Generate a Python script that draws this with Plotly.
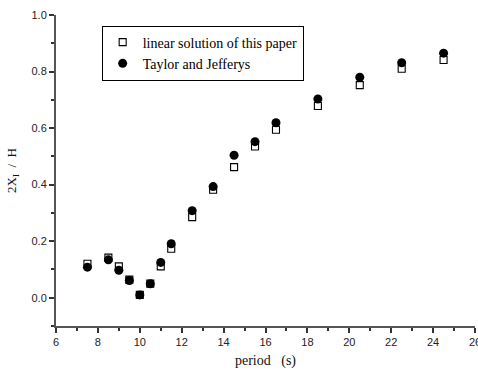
import plotly.graph_objects as go

period = [7.5, 8.5, 9.0, 9.5, 10.0, 10.5, 11.0, 11.5, 12.5, 13.5, 14.5, 15.5, 16.5, 18.5, 20.5, 22.5, 24.5]
linear_solution = [0.120, 0.142, 0.111, 0.064, 0.010, 0.050, 0.111, 0.173, 0.285, 0.382, 0.462, 0.535, 0.594, 0.678, 0.752, 0.810, 0.841]
taylor_jefferys = [0.108, 0.134, 0.097, 0.061, 0.010, 0.049, 0.125, 0.191, 0.308, 0.393, 0.504, 0.552, 0.619, 0.703, 0.780, 0.831, 0.865]

fig = go.Figure()
fig.add_trace(go.Scatter(
    x=period, y=linear_solution, mode="markers", name="linear solution of this paper",
    marker=dict(symbol="square-open", size=7, color="black", line=dict(width=1.1, color="black")),
))
fig.add_trace(go.Scatter(
    x=period, y=taylor_jefferys, mode="markers", name="Taylor and Jefferys",
    marker=dict(symbol="circle", size=9, color="black"),
))

axis_common = dict(
    showgrid=False, zeroline=False, showline=True, linecolor="#555555", linewidth=2,
    ticks="outside", ticklen=5, tickwidth=1.5, tickcolor="#333333",
    tickfont=dict(family="Liberation Sans, Arial", size=11, color="#222222"),
    mirror=False, automargin=False, ticklabeloverflow="allow",
)

fig.update_xaxes(
    range=[6, 26], dtick=2, tick0=6,
    minor=dict(ticks="outside", dtick=1, tick0=6, ticklen=3, tickcolor="#333333", tickwidth=1.5),
    title=dict(text="period   (s)", font=dict(family="Liberation Serif, Times New Roman", size=14, color="#111111"), standoff=8),
    **axis_common,
)
fig.update_yaxes(
    range=[-0.1, 1.0], dtick=0.2, tick0=0, tickformat=".1f",
    minor=dict(ticks="outside", dtick=0.1, tick0=0, ticklen=3, tickcolor="#333333", tickwidth=1.5),
    title=dict(text="2X<sub>I</sub>  /  H", font=dict(family="Liberation Serif, Times New Roman", size=13, color="#111111"), standoff=12),
    **axis_common,
)

fig.update_layout(
    width=478, height=377,
    margin=dict(l=56, r=3, t=15, b=51),
    paper_bgcolor="white", plot_bgcolor="white",
    showlegend=True,
    legend=dict(
        x=0.109, y=0.966, xanchor="left", yanchor="top",
        bordercolor="black", borderwidth=1, bgcolor="white",
        font=dict(family="Liberation Serif, Times New Roman", size=14, color="black"),
        tracegroupgap=0, itemwidth=30,
    ),
)

fig.write_html("out.html", config={"displayModeBar": False})

# remove default body margin so the figure sits at the window's top-left corner
with open("out.html", "r", encoding="utf-8") as f:
    html = f.read()
html = html.replace("<head>", "<head><style>html,body{margin:0;padding:0;overflow:hidden;}</style>", 1)
with open("out.html", "w", encoding="utf-8") as f:
    f.write(html)
